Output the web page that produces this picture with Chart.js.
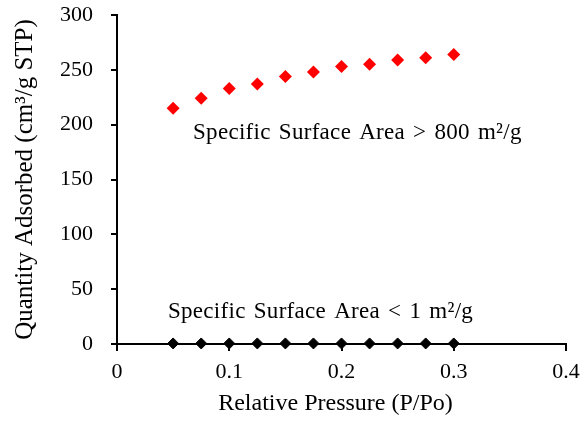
<!DOCTYPE html>
<html>
<head>
<meta charset="utf-8">
<script src="https://cdn.jsdelivr.net/npm/chart.js@4"></script>
<style>
  html, body { margin: 0; padding: 0; background: #fff; }
  #wrap { width: 584px; height: 423px; position: relative; }
</style>
</head>
<body>
<div id="wrap"><canvas id="isotherm"></canvas></div>
<script>
// Relative pressure values (P/Po)
const pressures = [0.05, 0.075, 0.1, 0.125, 0.15, 0.175, 0.2, 0.225, 0.25, 0.275, 0.3];
// Quantity adsorbed, high surface area sample
const highArea = [215, 224, 233, 237, 244, 248, 253, 255, 259, 261, 264];
// Quantity adsorbed, low surface area sample
const lowArea = [0.5, 0.5, 0.5, 0.5, 0.5, 0.5, 0.5, 0.5, 0.5, 0.5, 0.5];
// Axis ticks
const xTicks = [0, 0.1, 0.2, 0.3, 0.4];
const yTicks = [0, 50, 100, 150, 200, 250, 300];
// Text labels on the plot
const noteTexts = ["Specific Surface Area > 800 m\u00B2/g", "Specific Surface Area < 1 m\u00B2/g"];
const noteX = [0.0677, 0.0454];
const noteY = [192, 29];

const SERIF = "'Liberation Serif', 'Times New Roman', serif";

document.addEventListener("DOMContentLoaded", function() {
    // Draw the two notes inside the plot
    const notesPlugin = {
        id: "notes",
        afterDatasetsDraw(chart) {
            const ctx = chart.ctx;
            const xs = chart.scales.x, ys = chart.scales.y;
            ctx.save();
            ctx.font = "23px " + SERIF;
            ctx.letterSpacing = "0.3px";
            ctx.wordSpacing = "2px";
            ctx.fillStyle = "#000";
            ctx.textAlign = "left";
            ctx.textBaseline = "middle";
            noteTexts.forEach((t, i) => {
                ctx.fillText(t, xs.getPixelForValue(noteX[i]), ys.getPixelForValue(noteY[i]));
            });
            ctx.restore();
        }
    };

    new Chart("isotherm", {
        type: "scatter",
        data: {
            datasets: [{
                label: "> 800 m2/g",
                data: pressures.map((p, i) => ({ x: p, y: highArea[i] })),
                pointStyle: "rectRot",
                pointRadius: 6.5,
                backgroundColor: "#ff0000",
                borderColor: "#ff0000",
                borderWidth: 0,
                clip: false
            }, {
                label: "< 1 m2/g",
                data: pressures.map((p, i) => ({ x: p, y: lowArea[i] })),
                pointStyle: "rectRot",
                pointRadius: 5.5,
                backgroundColor: "#000",
                borderColor: "#000",
                borderWidth: 1,
                clip: false
            }]
        },
        options: {
            responsive: true,
            maintainAspectRatio: false,
            animation: false,
            layout: { padding: { top: 15, right: 18, left: 0, bottom: 0 } },
            plugins: {
                legend: { display: false },
                tooltip: { enabled: false }
            },
            scales: {
                x: {
                    type: "linear",
                    min: 0,
                    max: 0.4,
                    afterBuildTicks: s => { s.ticks = xTicks.map(v => ({ value: v })); },
                    afterFit: s => { s.height = 79; s.paddingLeft = 0; s.paddingRight = 0; },
                    grid: { drawOnChartArea: false, drawTicks: true, tickLength: 7, color: "#000", lineWidth: 2 },
                    border: { display: true, color: "#000", width: 2 },
                    ticks: {
                        color: "#000",
                        padding: 8,
                        font: { family: SERIF, size: 22 },
                        callback: v => String(v)
                    },
                    title: {
                        display: true,
                        text: "Relative Pressure (P/Po)  ",
                        color: "#000",
                        font: { family: SERIF, size: 24 },
                        padding: { top: 0, bottom: 5 }
                    }
                },
                y: {
                    min: 0,
                    max: 300,
                    afterBuildTicks: s => { s.ticks = yTicks.map(v => ({ value: v })); },
                    afterFit: s => { s.width = 117; s.paddingTop = 0; s.paddingBottom = 0; },
                    grid: { drawOnChartArea: false, drawTicks: true, tickLength: 6, color: "#000", lineWidth: 2 },
                    border: { display: true, color: "#000", width: 2 },
                    ticks: {
                        color: "#000",
                        padding: 18,
                        font: { family: SERIF, size: 22 }
                    },
                    title: {
                        display: true,
                        text: "Quantity Adsorbed (cm\u00B3/g STP)",
                        color: "#000",
                        font: { family: SERIF, size: 25 },
                        padding: { top: 10, bottom: 0 }
                    }
                }
            }
        },
        plugins: [notesPlugin]
    });
});
</script>
</body>
</html>
